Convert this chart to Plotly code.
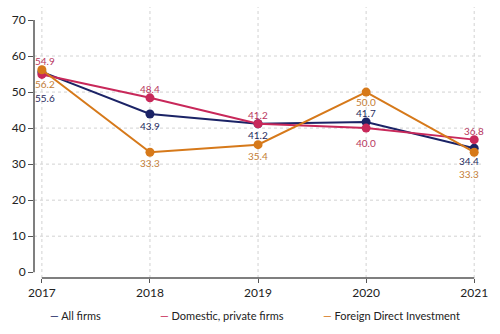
import plotly.graph_objects as go

years = [2017, 2018, 2019, 2020, 2021]
all_firms = [55.6, 43.9, 41.2, 41.7, 34.4]
domestic = [54.9, 48.4, 41.2, 40.0, 36.8]
fdi = [56.2, 33.3, 35.4, 50.0, 33.3]
y_ticks = [0, 10, 20, 30, 40, 50, 60, 70]

names = ["All firms", "Domestic, private firms", "Foreign Direct Investment"]
series = [all_firms, domestic, fdi]
line_colors = ["#1b2366", "#c8285a", "#d6791a"]
label_colors = ["#1f2a5e", "#b83660", "#c47d35"]
# per-label pixel offsets (dx, dy) – style only
offsets = [
    [(3, 26), (0, 12), (0, 11), (0, -9), (-5, 13)],
    [(3, -13), (0, -9), (0, -9), (0, 15), (0, -9)],
    [(3, 14), (0, 11), (0, 11), (0, 10), (-5, 22)],
]

fig = go.Figure()
for name, vals, col in zip(names, series, line_colors):
    fig.add_trace(go.Scatter(
        x=years, y=vals, name=name, mode="lines+markers",
        line=dict(color=col, width=2),
        marker=dict(color=col, size=9),
        showlegend=False,
    ))

annotations = []
for vals, col, offs in zip(series, label_colors, offsets):
    for x, v, (dx, dy) in zip(years, vals, offs):
        annotations.append(dict(
            x=x, y=v, text=f"{v:.1f}", showarrow=False,
            xshift=dx, yshift=-dy,
            font=dict(family="Lato", size=10, color=col),
        ))

# custom legend
leg_x = [45, 157, 324]
for name, col, lx in zip(names, line_colors, leg_x):
    annotations.append(dict(
        xref="paper", yref="paper", x=(lx - 31) / 456, y=-0.145,
        xanchor="left", yanchor="middle", showarrow=False,
        text=f'<span style="color:{col}">\u2014</span> <span style="color:#222">{name}</span>',
        font=dict(family="Lato", size=11, color="#222"),
    ))

shapes = []
# horizontal grid
for t in y_ticks[1:-1]:
    shapes.append(dict(type="line", xref="paper", yref="y", x0=0, x1=1, y0=t, y1=t,
                       line=dict(color="#d2d2d2", width=1, dash="dot"), layer="below"))
# vertical grid
for yr in years:
    shapes.append(dict(type="line", xref="x", yref="paper", x0=yr, x1=yr, y0=0, y1=1.05,
                       line=dict(color="#d2d2d2", width=1, dash="dot"), layer="below"))
# y axis line
shapes.append(dict(type="line", xref="paper", yref="y", x0=0, x1=0, y0=y_ticks[0], y1=y_ticks[-1],
                   line=dict(color="#555", width=1.5)))
# x axis line
shapes.append(dict(type="line", xref="x", yref="paper", x0=years[0], x1=years[-1], y0=0, y1=0,
                   line=dict(color="#555", width=1.5)))

fig.update_layout(
    width=500, height=334,
    margin=dict(l=31, r=13, t=14, b=56),
    plot_bgcolor="white", paper_bgcolor="white",
    annotations=annotations, shapes=shapes,
    xaxis=dict(range=[2016.927, 2021.063], tickvals=years, ticks="outside", ticklen=4,
               tickcolor="#555", showgrid=False, zeroline=False, showline=False,
               tickfont=dict(family="Lato", size=12, color="#222")),
    yaxis=dict(range=[-1.6, 70], tickvals=y_ticks, ticks="outside", ticklen=5,
               tickcolor="#555", showgrid=False, zeroline=False, showline=False,
               tickfont=dict(family="Lato", size=12, color="#222")),
)

fig.write_html("out.html")
